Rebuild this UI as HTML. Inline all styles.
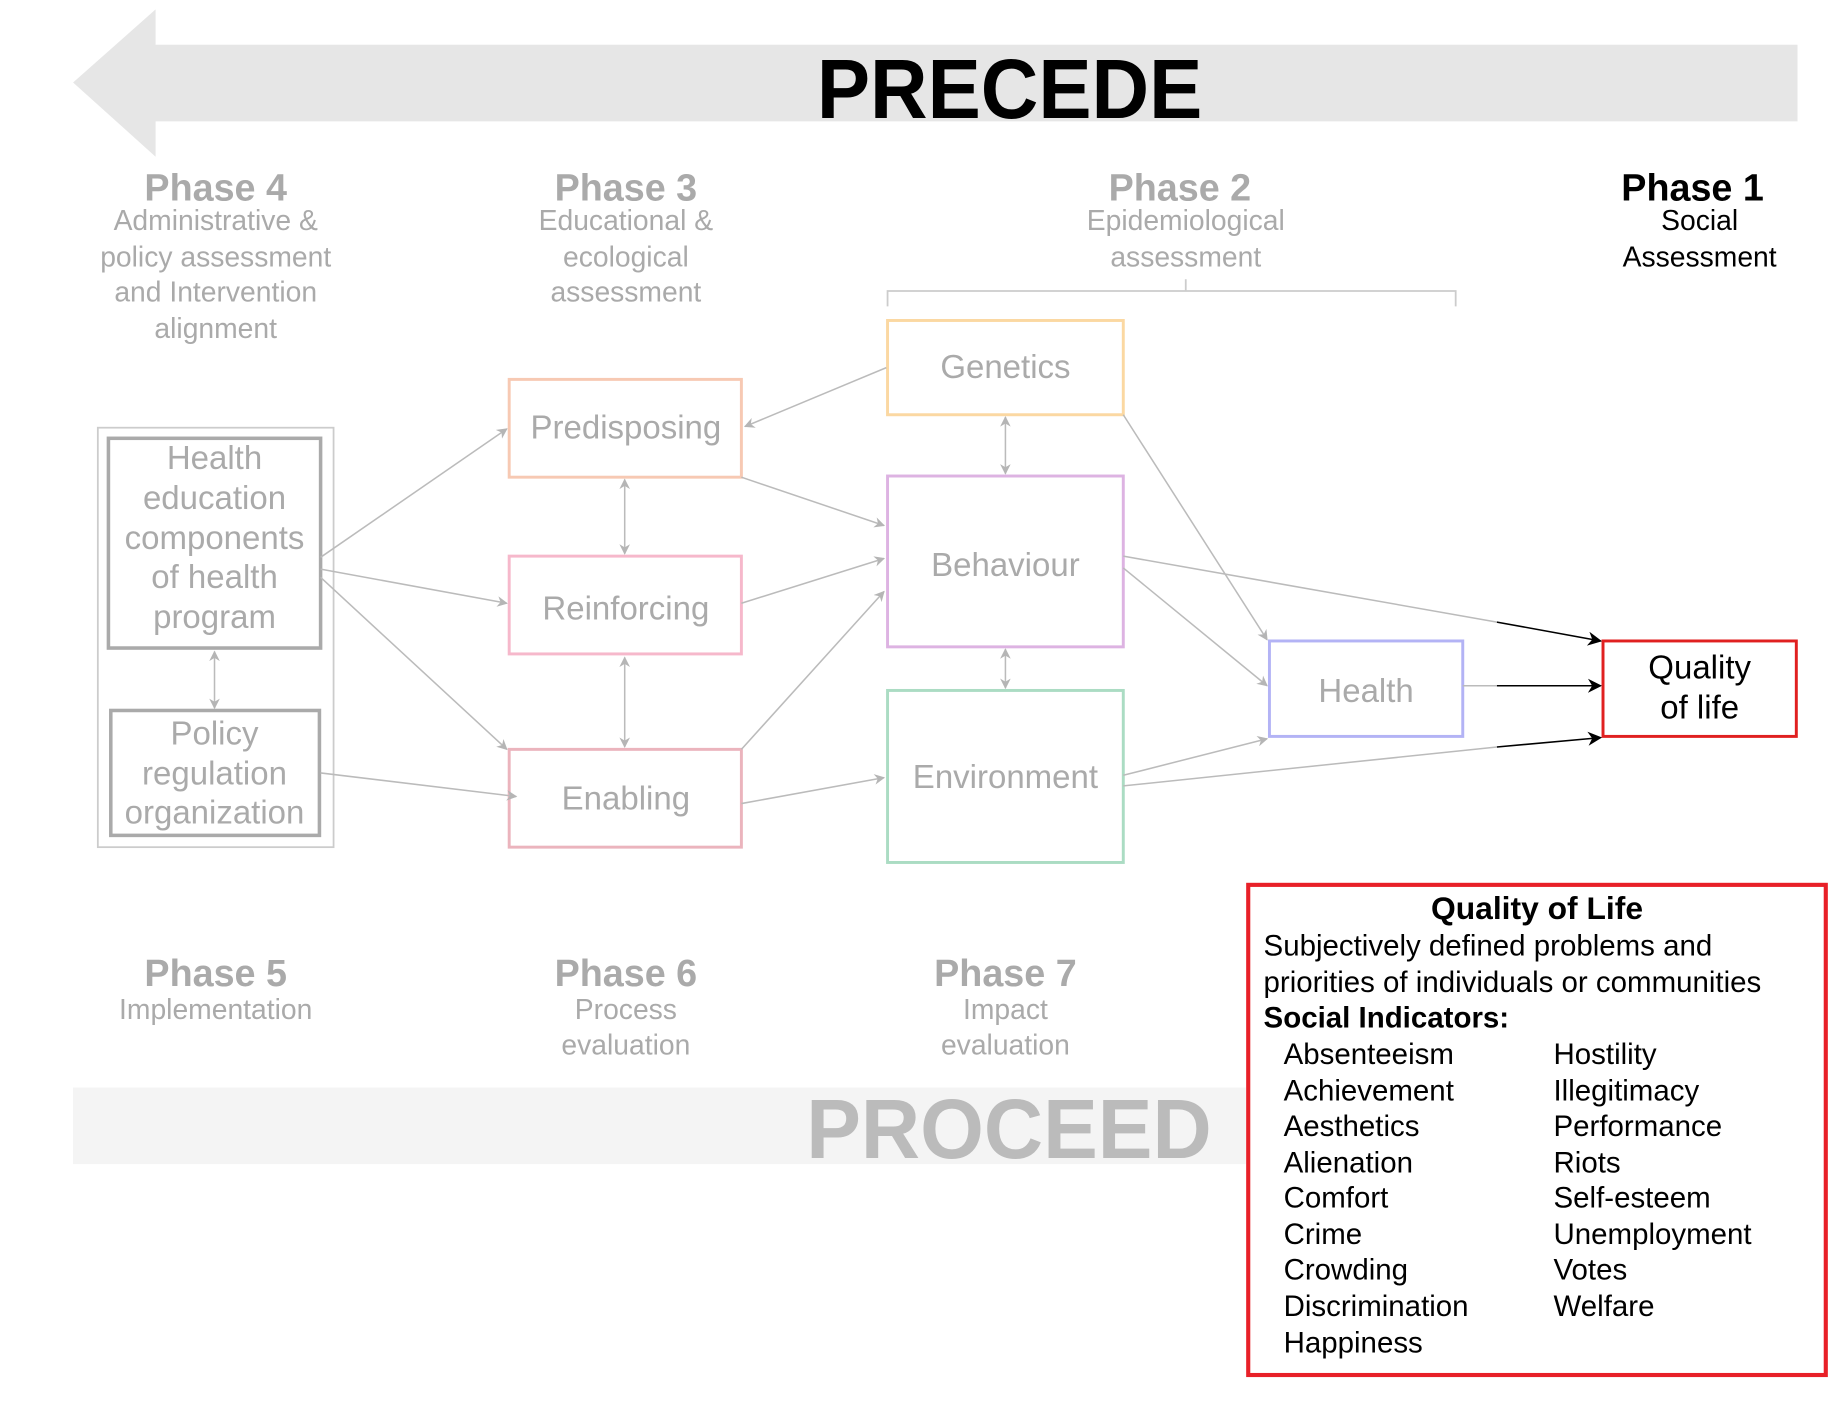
<!DOCTYPE html>
<html><head><meta charset="utf-8"><style>html,body{margin:0;padding:0;background:#fff}svg{display:block}</style></head>
<body>
<svg width="1847" height="1408" viewBox="0 0 1567 1195" preserveAspectRatio="none" xmlns="http://www.w3.org/2000/svg" font-family="Liberation Sans, sans-serif">
<defs>
<marker id="g" viewBox="0 0 10 10" refX="9" refY="5" markerWidth="9" markerHeight="9" orient="auto-start-reverse" markerUnits="userSpaceOnUse"><path d="M0,0 L10,5 L0,10 L3,5z" fill="#b5b5b5"/></marker>
<marker id="k" viewBox="0 0 10 10" refX="9" refY="5" markerWidth="12" markerHeight="12" orient="auto" markerUnits="userSpaceOnUse"><path d="M0,0 L10,5 L0,10 L3,5z" fill="#000"/></marker>
</defs>
<polygon points="62,70 132,8 132,38 1525,38 1525,103 132,103 132,133" fill="#e6e6e6"/>
<text x="693" y="100" font-size="72" font-weight="bold" textLength="327" lengthAdjust="spacingAndGlyphs" fill="#000">PRECEDE</text>
<rect x="62" y="923" width="995" height="65" fill="#f4f4f4"/>
<text x="684" y="983" font-size="72" font-weight="bold" textLength="344" lengthAdjust="spacingAndGlyphs" fill="#bbb">PROCEED</text>

<g text-anchor="middle" fill="#aaa">
<text x="183" y="170" font-size="32" font-weight="bold">Phase 4</text>
<g font-size="24"><text x="183" y="195">Administrative &amp;</text><text x="183" y="226">policy assessment</text><text x="183" y="256">and Intervention</text><text x="183" y="287">alignment</text></g>
<text x="531" y="170" font-size="32" font-weight="bold">Phase 3</text>
<g font-size="24"><text x="531" y="195">Educational &amp;</text><text x="531" y="226">ecological</text><text x="531" y="256">assessment</text></g>
<text x="1001" y="170" font-size="32" font-weight="bold">Phase 2</text>
<g font-size="24"><text x="1006" y="195">Epidemiological</text><text x="1006" y="226">assessment</text></g>
<text x="183" y="837" font-size="32" font-weight="bold">Phase 5</text>
<text x="183" y="865" font-size="24">Implementation</text>
<text x="531" y="837" font-size="32" font-weight="bold">Phase 6</text>
<g font-size="24"><text x="531" y="865">Process</text><text x="531" y="895">evaluation</text></g>
<text x="853" y="837" font-size="32" font-weight="bold">Phase 7</text>
<g font-size="24"><text x="853" y="865">Impact</text><text x="853" y="895">evaluation</text></g>
</g>
<g text-anchor="middle" fill="#000">
<text x="1436" y="170" font-size="32" font-weight="bold">Phase 1</text>
<g font-size="24"><text x="1442" y="195">Social</text><text x="1442" y="226">Assessment</text></g>
</g>
<path d="M753,260 V247 H1235 V260 M1006,247 V237" fill="none" stroke="#ccc" stroke-width="1.5"/>

<rect x="83" y="363" width="200" height="356" fill="none" stroke="#ccc" stroke-width="1.5"/>
<rect x="92" y="372" width="180" height="178" fill="none" stroke="#aaa" stroke-width="3"/>
<rect x="94" y="603" width="177" height="106" fill="none" stroke="#aaa" stroke-width="3"/>
<rect x="432" y="322" width="197" height="83" fill="none" stroke="#f7c9b3" stroke-width="2.5"/>
<rect x="432" y="472" width="197" height="83" fill="none" stroke="#f6b8cb" stroke-width="2.5"/>
<rect x="432" y="636" width="197" height="83" fill="none" stroke="#ebb4bd" stroke-width="2.5"/>
<rect x="753" y="272" width="200" height="80" fill="none" stroke="#fbd8a2" stroke-width="2.5"/>
<rect x="753" y="404" width="200" height="145" fill="none" stroke="#ddb3e2" stroke-width="2.5"/>
<rect x="753" y="586" width="200" height="146" fill="none" stroke="#abdcc3" stroke-width="2.5"/>
<rect x="1077" y="544" width="164" height="81" fill="none" stroke="#b3b3f5" stroke-width="2.5"/>
<rect x="1360" y="544" width="164" height="81" fill="none" stroke="#e02020" stroke-width="2.5"/>
<rect x="1059" y="751" width="490" height="416" fill="none" stroke="#e82028" stroke-width="3.5"/>

<g text-anchor="middle" fill="#aaa" font-size="28">
<text x="182" y="398">Health</text><text x="182" y="432">education</text><text x="182" y="466">components</text><text x="182" y="499">of health</text><text x="182" y="533">program</text>
<text x="182" y="632">Policy</text><text x="182" y="666">regulation</text><text x="182" y="699">organization</text>
<text x="531" y="372">Predisposing</text>
<text x="531" y="526">Reinforcing</text>
<text x="531" y="687">Enabling</text>
<text x="853" y="321">Genetics</text>
<text x="853" y="489">Behaviour</text>
<text x="853" y="669">Environment</text>
<text x="1159" y="596">Health</text>
</g>
<g text-anchor="middle" fill="#000" font-size="28"><text x="1442" y="576">Quality</text><text x="1442" y="610">of life</text></g>

<g stroke="#bbb" stroke-width="1.3" fill="none" marker-end="url(#g)">
<line x1="272" y1="473" x2="430" y2="364"/>
<line x1="272" y1="483" x2="430" y2="512"/>
<line x1="272" y1="490" x2="430" y2="636"/>
<line x1="272" y1="656" x2="438" y2="676"/>
<line x1="752" y1="312" x2="632" y2="362"/>
<line x1="629" y1="405" x2="750" y2="446"/>
<line x1="629" y1="512" x2="750" y2="474"/>
<line x1="629" y1="636" x2="750" y2="502"/>
<line x1="629" y1="682" x2="750" y2="660"/>
<line x1="953" y1="352" x2="1075" y2="543"/>
<line x1="953" y1="482" x2="1075" y2="582"/>
<line x1="953" y1="658" x2="1075" y2="627"/>
<line x1="530" y1="407" x2="530" y2="470" marker-start="url(#g)"/>
<line x1="530" y1="558" x2="530" y2="634" marker-start="url(#g)"/>
<line x1="853" y1="354" x2="853" y2="402" marker-start="url(#g)"/>
<line x1="853" y1="551" x2="853" y2="584" marker-start="url(#g)"/>
<line x1="182" y1="553" x2="182" y2="601" marker-start="url(#g)"/>
</g>
<g stroke="#bbb" stroke-width="1.3"><line x1="953" y1="472" x2="1270" y2="528"/><line x1="953" y1="667" x2="1270" y2="634"/><line x1="1241" y1="582" x2="1270" y2="582"/></g>
<g stroke="#000" stroke-width="1.3" marker-end="url(#k)"><line x1="1270" y1="528" x2="1358" y2="544"/><line x1="1270" y1="582" x2="1358" y2="582"/><line x1="1270" y1="634" x2="1358" y2="626"/></g>

<g fill="#000" font-size="25">
<text x="1304" y="780" text-anchor="middle" font-weight="bold" font-size="27">Quality of Life</text>
<text x="1072" y="811">Subjectively defined problems and</text>
<text x="1072" y="842">priorities of individuals or communities</text>
<text x="1072" y="872" font-weight="bold">Social Indicators:</text>
<text x="1089" y="903">Absenteeism</text><text x="1089" y="934">Achievement</text><text x="1089" y="964">Aesthetics</text><text x="1089" y="995">Alienation</text><text x="1089" y="1025">Comfort</text><text x="1089" y="1056">Crime</text><text x="1089" y="1086">Crowding</text><text x="1089" y="1117">Discrimination</text><text x="1089" y="1148">Happiness</text>
<text x="1318" y="903">Hostility</text><text x="1318" y="934">Illegitimacy</text><text x="1318" y="964">Performance</text><text x="1318" y="995">Riots</text><text x="1318" y="1025">Self-esteem</text><text x="1318" y="1056">Unemployment</text><text x="1318" y="1086">Votes</text><text x="1318" y="1117">Welfare</text>
</g>
</svg>
</body></html>
